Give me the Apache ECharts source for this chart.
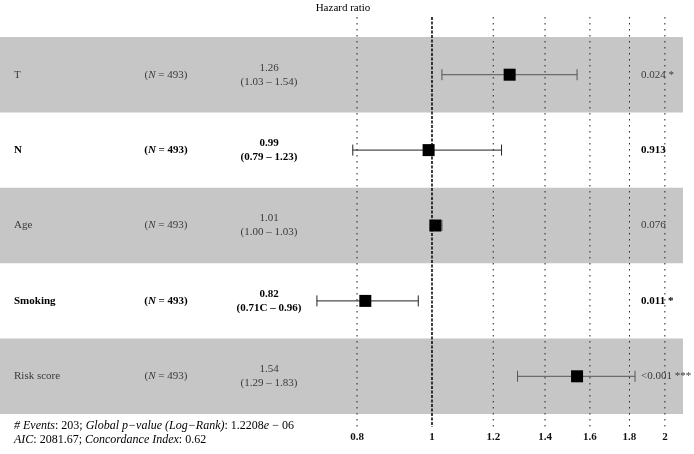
<!DOCTYPE html>
<html><head><meta charset="utf-8">
<script src="https://cdn.jsdelivr.net/npm/echarts@6/dist/echarts.min.js"></script>
<style>html,body{margin:0;padding:0;background:#fff}#c{width:694px;height:454px}</style>
</head><body><div id="c"></div>
<script>
// ---- data ----
const variables = ['T', 'N', 'Age', 'Smoking', 'Risk score'];
const nValues = [493, 493, 493, 493, 493];
const hazardRatio = [1.26, 0.99, 1.01, 0.82, 1.54];
const ciLower = [1.03, 0.79, 1.00, 0.71, 1.29];
const ciUpper = [1.54, 1.23, 1.03, 0.96, 1.83];
const hrLabels = ['1.26', '0.99', '1.01', '0.82', '1.54'];
const ciLabels = ['(1.03 – 1.54)', '(0.79 – 1.23)', '(1.00 – 1.03)', '(0.71C – 0.96)', '(1.29 – 1.83)'];
const pValues = ['0.024', '0.913', '0.076', '0.011', '<0.001'];
const signif = ['*', '', '', '*', '***'];
const boldRow = [false, true, false, true, false];
const tickValues = [0.8, 1, 1.2, 1.4, 1.6, 1.8, 2];
const tickLabels = ['0.8', '1', '1.2', '1.4', '1.6', '1.8', '2'];
const titleText = 'Hazard ratio';

const FONT = '"Liberation Serif", "DejaVu Serif", serif';
const nRows = variables.length;

const rowData = variables.map((v, i) => [hazardRatio[i], nRows - i - 0.5, i, ciLower[i], ciUpper[i]]);

const chart = echarts.init(document.getElementById('c'), null, {renderer: 'canvas'});

function fontStr(bold, size, italic) {
  return (italic ? 'italic ' : '') + (bold ? 'bold ' : '') + size + 'px ' + FONT;
}

chart.setOption({
  animation: false,
  backgroundColor: '#fff',
  grid: {left: 0, right: 11, top: 17, bottom: 27},
  xAxis: {
    type: 'log', logBase: 10, min: 0.27645, max: 2.1108,
    axisLine: {show: false}, axisTick: {show: false}, axisLabel: {show: false}, splitLine: {show: false}
  },
  yAxis: {
    type: 'value', min: -0.1724, max: 5.2653,
    axisLine: {show: false}, axisTick: {show: false}, axisLabel: {show: false}, splitLine: {show: false}
  },
  graphic: [
    {type: 'text', x: 343, y: 8, style: {text: titleText, align: 'center', verticalAlign: 'middle', font: fontStr(false, 11), fill: '#000'}},
    {type: 'text', x: 14, y: 426, style: {
      text: '{i|# Events}: 203; {i|Global p−value (Log−Rank)}: 1.2208{i|e} − 06',
      verticalAlign: 'middle', font: fontStr(false, 12), fill: '#000',
      rich: {i: {fontStyle: 'italic', fontFamily: FONT, fontSize: 12, fill: '#000'}}
    }},
    {type: 'text', x: 14, y: 440, style: {
      text: '{i|AIC}: 2081.67; {i|Concordance Index}: 0.62',
      verticalAlign: 'middle', font: fontStr(false, 12), fill: '#000',
      rich: {i: {fontStyle: 'italic', fontFamily: FONT, fontSize: 12, fill: '#000'}}
    }}
  ],
  series: [
    {
      type: 'custom', name: 'bands', silent: true, z: 1,
      data: rowData,
      renderItem: function (params, api) {
        const i = api.value(2);
        if (i % 2 === 1) return {type: 'group', children: []};
        const cs = params.coordSys;
        const top = api.coord([1, nRows - i])[1];
        const bot = api.coord([1, nRows - i - 1])[1];
        return {type: 'rect', shape: {x: cs.x, y: top, width: cs.width, height: bot - top}, style: {fill: '#c6c6c6'}};
      }
    },
    {
      type: 'custom', name: 'refLines', silent: true, z: 2,
      data: tickValues.map((v, k) => [v, 0, k]),
      renderItem: function (params, api) {
        const cs = params.coordSys;
        const v = api.value(0);
        const k = api.value(2);
        const x = api.coord([v, 0])[0];
        const isRef = v === 1;
        return {type: 'group', children: [
          {type: 'line', shape: {x1: x, y1: cs.y, x2: x, y2: cs.y + cs.height},
           style: {stroke: isRef ? '#111' : '#222', lineWidth: isRef ? 1.6 : 1, lineDash: isRef ? [3, 1.5] : [1.5, 4.5]}},
          {type: 'text', x: x, y: cs.y + cs.height + 10,
           style: {text: tickLabels[k], align: 'center', verticalAlign: 'middle', font: fontStr(true, 11), fill: '#111'}}
        ]};
      }
    },
    {
      type: 'custom', name: 'forest', silent: true, z: 3,
      data: rowData,
      renderItem: function (params, api) {
        const i = api.value(2);
        const p = api.coord([api.value(0), api.value(1)]);
        const pl = api.coord([api.value(3), api.value(1)]);
        const ph = api.coord([api.value(4), api.value(1)]);
        const y = p[1];
        const b = boldRow[i];
        const col = b ? '#000' : '#3a3a3a';
        const lineCol = b ? '#222' : '#555';
        const sz = 12;
        return {type: 'group', children: [
          {type: 'line', shape: {x1: pl[0], y1: y, x2: ph[0], y2: y}, style: {stroke: lineCol, lineWidth: 1}},
          {type: 'line', shape: {x1: pl[0], y1: y - 5.5, x2: pl[0], y2: y + 5.5}, style: {stroke: lineCol, lineWidth: 1}},
          {type: 'line', shape: {x1: ph[0], y1: y - 5.5, x2: ph[0], y2: y + 5.5}, style: {stroke: lineCol, lineWidth: 1}},
          {type: 'rect', shape: {x: p[0] - sz / 2, y: y - sz / 2, width: sz, height: sz}, style: {fill: '#000'}},
          {type: 'text', x: 14, y: y, style: {text: variables[i], align: 'left', verticalAlign: 'middle', font: fontStr(b, 11), fill: col}},
          {type: 'text', x: 166, y: y, style: {
            text: '({i|N} = ' + nValues[i] + ')', align: 'center', verticalAlign: 'middle', font: fontStr(b, 11), fill: col,
            rich: {i: {fontStyle: 'italic', fontWeight: b ? 'bold' : 'normal', fontFamily: FONT, fontSize: 11, fill: col}}
          }},
          {type: 'text', x: 269, y: y - 7, style: {text: hrLabels[i], align: 'center', verticalAlign: 'middle', font: fontStr(b, 11), fill: col}},
          {type: 'text', x: 269, y: y + 7, style: {text: ciLabels[i], align: 'center', verticalAlign: 'middle', font: fontStr(b, 11), fill: col}},
          {type: 'text', x: 641, y: y, style: {text: pValues[i] + (signif[i] ? ' ' + signif[i] : ''), align: 'left', verticalAlign: 'middle', font: fontStr(b, 11), fill: col}}
        ]};
      }
    }
  ]
});
</script>
</body></html>
